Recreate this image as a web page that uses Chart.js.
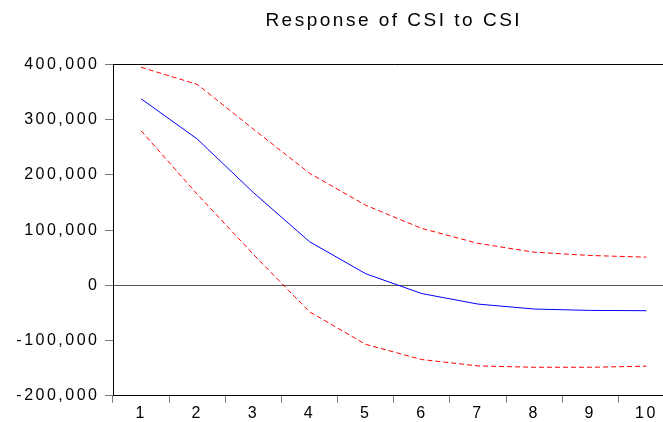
<!DOCTYPE html>
<html>
<head>
<meta charset="utf-8">
<script src="https://cdn.jsdelivr.net/npm/chart.js@4.4.0/dist/chart.umd.min.js"></script>
<style>
    html, body { margin: 0; padding: 0; background: #fff; }
    #wrap { width: 663px; height: 422px; overflow: hidden; position: relative; }
    canvas { display: block; }
</style>
</head>
<body>
<div id="wrap"><canvas id="chart" width="690" height="422"></canvas></div>
<script>
// impulse response of CSI to a CSI shock, with +/- 2 S.E. bands
const periods = ['1', '2', '3', '4', '5', '6', '7', '8', '9', '10'];
const response = [338000, 265000, 168000, 79000, 21000, -15000, -34000, -43000, -45500, -46000];
const upperBand = [395000, 364000, 283000, 203000, 145000, 103000, 76000, 60000, 54000, 51000];
const lowerBand = [280000, 165000, 56000, -48000, -107000, -134500, -146000, -148500, -148500, -146500];
const yTicks = [-200000, -100000, 0, 100000, 200000, 300000, 400000];

const FONT = "'Liberation Sans', Arial, sans-serif";

// EViews spreads its glyphs out a little
const spacing = {
    id: 'spacing',
    beforeLayout(chart) { chart.ctx.letterSpacing = '2.5px'; },
    beforeDraw(chart) { chart.ctx.letterSpacing = '2.5px'; }
};

new Chart(document.getElementById('chart'), {
    type: 'line',
    data: {
        labels: periods,
        datasets: [
            { data: response, borderColor: '#0000ff', borderWidth: 1 },
            { data: upperBand, borderColor: '#ff0000', borderWidth: 1, borderDash: [5, 3] },
            { data: lowerBand, borderColor: '#ff0000', borderWidth: 1, borderDash: [5, 3] }
        ]
    },
    options: {
        responsive: false,
        animation: false,
        devicePixelRatio: 1,
        elements: { point: { radius: 0 }, line: { tension: 0 } },
        layout: { padding: { left: 0, top: 0, right: 15.5, bottom: 0 } },
        plugins: {
            legend: { display: false },
            tooltip: { enabled: false },
            title: {
                display: true,
                fullSize: false,
                text: 'Response of CSI to CSI',
                color: '#000',
                font: { family: FONT, size: 19, weight: 'normal', lineHeight: 1.2 },
                padding: { top: 9, bottom: 32.7 }
            }
        },
        scales: {
            x: {
                offset: true,
                grid: { offset: true, drawOnChartArea: false, tickLength: 7, tickColor: '#777', lineWidth: 1 },
                border: { color: '#000', width: 1 },
                ticks: { color: '#000', padding: 1, maxRotation: 0, font: { family: FONT, size: 16 } },
                afterFit(scale) { scale.height = 26.3; }
            },
            y: {
                min: -200000,
                max: 400000,
                afterBuildTicks(scale) { scale.ticks = yTicks.map(v => ({ value: v })); },
                grid: {
                    tickLength: 8,
                    tickColor: '#777',
                    color: ctx => ctx.tick && ctx.tick.value === 0 ? '#555' : (ctx.tick && ctx.tick.value === 400000 ? '#000' : 'rgba(0,0,0,0)')
                },
                border: { color: '#000', width: 1 },
                ticks: {
                    color: '#000',
                    padding: 5.5,
                    font: { family: FONT, size: 16 },
                    callback: v => v.toLocaleString('en-US')
                },
                afterFit(scale) { scale.width = 113; }
            }
        }
    },
    plugins: [spacing]
});
</script>
</body>
</html>
